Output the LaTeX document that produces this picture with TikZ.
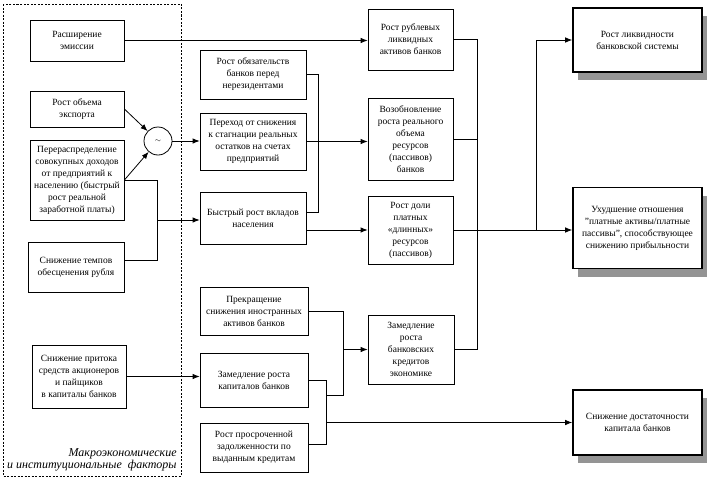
\documentclass[tikz,border=0pt]{standalone}
\usepackage{fontspec}
\setmainfont{Liberation Serif}
\usetikzlibrary{arrows.meta,calc,shadows}
\begin{document}
\begin{tikzpicture}[x=1pt,y=-1pt,
  box/.style={draw, line width=0.8pt, align=center, inner sep=1pt, fill=white,
    font=\fontsize{9.5}{12}\selectfont},
  bigbox/.style={box, line width=1.6pt,
    drop shadow={shadow xshift=5pt,shadow yshift=-8pt,fill=black!42,opacity=1}},
  arr/.style={-{Latex[length=7pt,width=5.5pt]}},
  every path/.style={line width=0.8pt},
  lbl/.style={font=\itshape\fontsize{12}{12.5}\selectfont, inner sep=0pt, anchor=base east}]
\useasboundingbox (0,0) rectangle (708,479);
\fill[white] (0,0) rectangle (708,479);

% dashed frame
\draw[dash pattern=on 2pt off 1.5pt] (3,4) rectangle (181,476);
\node[lbl] (l1) at (177,456) {Макроэкономические};
\node[lbl] (l2) at (177,468) {и институциональные\ \ факторы};

% left column
\node[box, minimum width=94pt, minimum height=41pt] (r1) at (77,40.5) {Расширение\\эмиссии};
\node[box, minimum width=94pt, minimum height=36pt] (r2) at (77,109) {Рост объема\\экспорта};
\node[box, minimum width=94pt, minimum height=80pt] (r3) at (77,180) {Перераспределение\\совокупных доходов\\от предприятий к\\населению (быстрый\\рост реальной\\заработной платы)};
\node[box, minimum width=96pt, minimum height=50pt] (r4) at (76,267) {Снижение темпов\\обесценения рубля};
\node[box, minimum width=94pt, minimum height=63pt] (r5) at (79,376.5) {Снижение притока\\средств акционеров\\и пайщиков\\в капиталы банков};
\node[draw, circle, minimum size=28pt, inner sep=0pt, line width=0.8pt] (circ) at (158,141) {\scriptsize$\sim$};

% middle column
\node[box, minimum width=106pt, minimum height=49pt] (A) at (253,74.5) {Рост обязательств\\банков перед\\нерезидентами};
\node[box, minimum width=106pt, minimum height=57pt] (B) at (253,141.5) {Переход от снижения\\к стагнации реальных\\остатков на счетах\\предприятий};
\node[box, minimum width=106pt, minimum height=52pt] (C) at (253,218) {Быстрый рост вкладов\\населения};
\node[box, minimum width=108pt, minimum height=48pt] (D) at (254,311) {Прекращение\\снижения иностранных\\активов банков};
\node[box, minimum width=108pt, minimum height=54pt] (E) at (254,380) {Замедление роста\\капиталов банков};
\node[box, minimum width=108pt, minimum height=49pt] (F) at (254,447.5) {Рост просроченной\\задолженности по\\выданным кредитам};

% right-middle column
\node[box, minimum width=85pt, minimum height=61pt] (G) at (410.5,39.5) {Рост рублевых\\ликвидных\\активов банков};
\node[box, minimum width=85pt, minimum height=82pt] (H) at (410.5,139) {Возобновление\\роста реального\\объема\\ресурсов\\(пассивов)\\банков};
\node[box, minimum width=85pt, minimum height=68pt] (I) at (410.5,230) {Рост доли\\платных\\«длинных»\\ресурсов\\(пассивов)};
\node[box, minimum width=86pt, minimum height=69pt] (J) at (411,349.5) {Замедление\\роста\\банковских\\кредитов\\экономике};

% right column
\node[bigbox, minimum width=129pt, minimum height=64pt] (K) at (637.5,40) {Рост ликвидности\\банковской системы};
\node[bigbox, minimum width=129pt, minimum height=81pt] (L) at (637.5,228) {Ухудшение отношения\\"платные активы/платные\\пассивы", способствующее\\снижению прибыльности};
\node[bigbox, minimum width=129pt, minimum height=65pt] (M) at (637.5,422.5) {Снижение достаточности\\капитала банков};

% helper x positions
\coordinate (v1) at (157,0);
\coordinate (v2) at (318,0);
\coordinate (v3) at (343,0);
\coordinate (v4) at (326,0);
\coordinate (v5) at (477,0);
\coordinate (v6) at (536,0);
\coordinate (j1) at (157,220);

% connectors
\draw[arr] (r1.east) -- (r1.east -| G.west);
\draw[arr] (r2.east) -- (circ);
\draw[arr] (r3.east) -- (circ);
\draw[arr] (circ) -- (circ -| B.west);
\draw (r3.east) -- (r3.east -| v1) -- ([yshift=7pt]r4.east -| v1) -- ([yshift=7pt]r4.east);
\draw[arr] (j1) -- (j1 -| C.west);
\draw[arr] (r5.east) -- (r5.east -| E.west);

\draw (A.east) -- (A.east -| v2) -- ([yshift=6pt]C.east -| v2) -- ([yshift=6pt]C.east);
\draw[arr] (B.east) -- (B.east -| H.west);
\draw[arr] (I.west -| C.east) -- (I.west);

\draw (D.east) -- (D.east -| v3) -- (v3 |- 0,395) -- (v4 |- 0,395);
\draw (E.east) -- (E.east -| v4) -- ([yshift=3.5pt]F.east -| v4) -- ([yshift=3.5pt]F.east);
\draw[arr] (J.west -| v3) -- (J.west);
\draw[arr] (M.west -| v4) -- (M.west);

\draw (G.east) -- (G.east -| v5) -- (J.east -| v5) -- (J.east);
\draw (H.east) -- (H.east -| v5);
\draw[arr] (I.east) -- (I.east -| L.west);
\draw[arr] (I.east -| v6) |- (K.west);
\end{tikzpicture}
\end{document}
